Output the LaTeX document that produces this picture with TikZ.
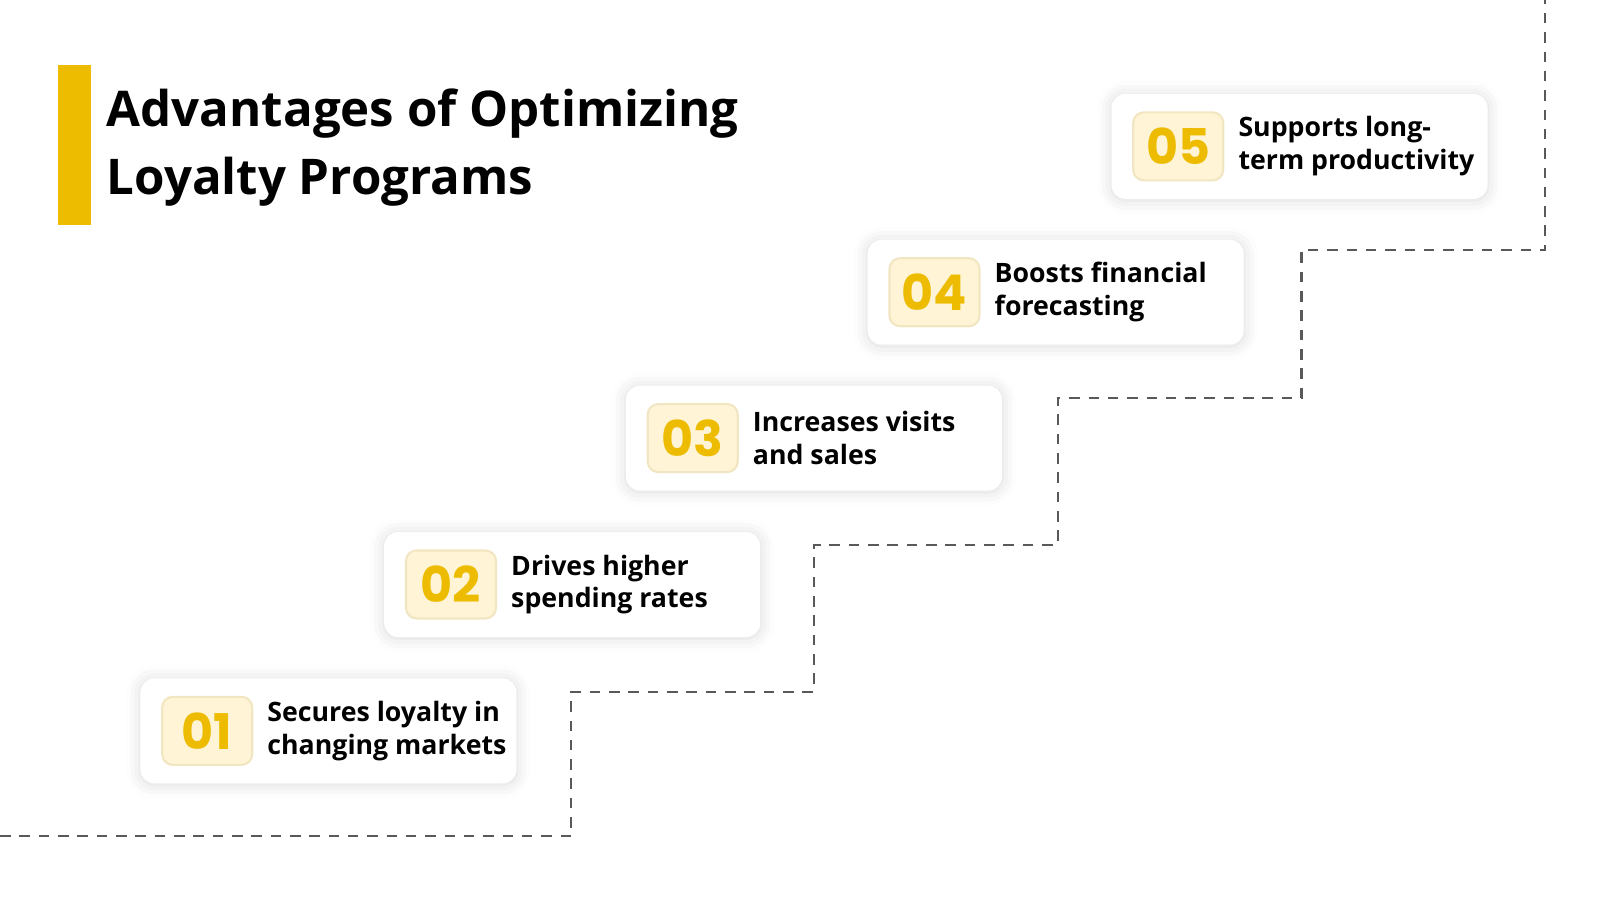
\documentclass[tikz,border=0pt]{standalone}
\usepackage{fontspec}
\setmainfont{Open Sans}
\newfontfamily\numfont{Poppins}
\usetikzlibrary{shadows.blur}
\definecolor{gold}{HTML}{EDBC00}
\definecolor{lightgold}{HTML}{FFF5D6}
\definecolor{goldedge}{HTML}{F2E6C2}
\tikzset{
 card/.style={draw=none,fill=white,rounded corners=4pt,minimum width=3.76cm,minimum height=1.05cm,blur shadow={shadow xshift=0pt,shadow yshift=-0.3pt,shadow blur radius=4pt,shadow opacity=15}},
 numbox/.style={draw=goldedge,line width=0.6pt,fill=lightgold,rounded corners=3pt,minimum width=0.9cm,minimum height=0.68cm,font=\numfont\bfseries\fontsize{14}{15}\selectfont,text=gold,inner sep=0pt},
 lbl/.style={anchor=west,align=left,font=\fontsize{7.6}{9.3}\selectfont\bfseries,inner sep=0pt},
 stair/.style={draw=black!65,line width=0.6pt,dash pattern=on 3pt off 2.5pt}
}
\begin{document}
\begin{tikzpicture}[x=1.02cm,y=-1.02cm]
\useasboundingbox (0,0) rectangle (15.686,8.824);
\draw[stair] (0,8.2) -- (5.6,8.2) -- (5.6,6.78) -- (7.98,6.78) -- (7.98,5.34) -- (10.37,5.34) -- (10.37,3.9) -- (12.76,3.9) -- (12.76,2.45) -- (15.15,2.45) -- (15.15,0);
\fill[gold] (0.57,0.64) rectangle (0.89,2.21);
\node[anchor=north west,align=left,inner sep=0pt,font=\fontsize{14}{19.4}\selectfont\bfseries] (title) at (1.04,0.86) {Advantages of Optimizing\\Loyalty Programs};
\foreach \i/\x/\y/\t in {1/1.37/7.165/{Secures loyalty in\\changing markets},2/3.76/5.73/{Drives higher\\spending rates},3/6.13/4.295/{Increases visits\\and sales},4/8.50/2.865/{Boosts financial\\forecasting},5/10.89/1.435/{Supports long-\\term productivity}}{
 \node[card,anchor=west] (c\i) at (\x,\y) {};
 \node[numbox,anchor=west] (n\i) at ([xshift=0.214cm]c\i.west) {0\i};
 \node[lbl] (t\i) at ([xshift=1.27cm]c\i.west) {\t};
}
\end{tikzpicture}
\end{document}
